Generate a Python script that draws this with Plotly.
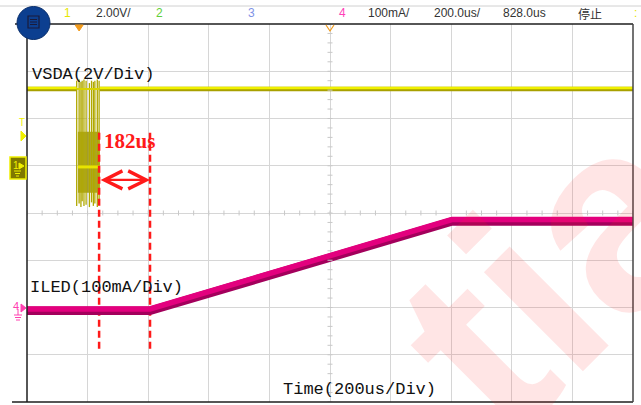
import plotly.graph_objects as go

# ---------------- data ----------------
x_range_us = [0, 2000]          # 10 div x 200us
vsda_range_v = [-10, 6]         # 8 div x 2V, ground 3 div below top
iled_range_ma = [-200, 600]     # 8 div x 100mA, ground 6 div below top

vsda_high_v = 3.25
vsda_pre_t = [0, 164]
vsda_post_t = [240, 2000]
burst_edges_us = [164, 172, 178, 182, 188, 195, 206, 213, 219, 224, 232, 238]
burst_top_v = [3.6, 3.65, 3.55, 3.6, 3.65, 3.6, 3.5, 3.6, 3.55, 3.6, 3.65, 3.6]
burst_bottom_v = [-1.7, -1.6, -1.75, -1.5, -1.7, -1.65, -1.75, -1.55, -1.7, -1.6, -1.75, -1.6]
burst_dense_t = [168, 240]
burst_dense_v = [-1.14, 1.44]
burst_band_v = -0.05

iled_t = [0, 406, 1402, 2000]
iled_ma = [-7, -7, 182, 182]

cursor_t = [238, 406]
cursor_span_v = [1.4, -7.8]
arrow_v = -0.6
delta_label = "182us"
trigger_t = 172

header_texts = ["1", "2.00V/", "2", "3", "4", "100mA/", "200.0us/", "828.0us", "停止", ":"]
header_colors = ["#e6e600", "#333333", "#5fcf3a", "#7f93e6", "#ff3fb8", "#333333", "#333333", "#333333", "#333333", "#e6e600"]
header_x_px = [67, 113, 159, 251, 342, 389, 457, 524, 590, 635]

# ---------------- layout helpers ----------------
W, H = 641, 405
L, R, T, B = 27, 633, 24, 402


def px(x):
    return (x - L) / (R - L)


def py(y):
    return (B - y) / (B - T)


def t_to_px(t):
    return L + (t - x_range_us[0]) / (x_range_us[1] - x_range_us[0]) * (R - L)


fig = go.Figure()

# VSDA burst: dense area
fig.add_trace(go.Scatter(
    x=[burst_dense_t[0], burst_dense_t[1], burst_dense_t[1], burst_dense_t[0], burst_dense_t[0]],
    y=[burst_dense_v[0], burst_dense_v[0], burst_dense_v[1], burst_dense_v[1], burst_dense_v[0]],
    fill="toself", fillcolor="rgba(150,142,0,0.8)", line=dict(width=0), mode="lines",
    hoverinfo="skip", showlegend=False))

# VSDA burst: edges
bx, by = [], []
for t, top, bot in zip(burst_edges_us, burst_top_v, burst_bottom_v):
    bx += [t, t, None]
    by += [top, bot, None]
fig.add_trace(go.Scatter(x=bx, y=by, mode="lines", line=dict(color="#b0a800", width=1.3),
                         hoverinfo="skip", showlegend=False))
fig.add_trace(go.Scatter(x=burst_dense_t, y=[burst_band_v] * 2, mode="lines",
                         line=dict(color="#e8e400", width=3), hoverinfo="skip", showlegend=False))

# VSDA high level
for seg in (vsda_pre_t, vsda_post_t):
    fig.add_trace(go.Scatter(x=seg, y=[vsda_high_v] * 2, mode="lines",
                             line=dict(color="#a8a000", width=4.5), hoverinfo="skip", showlegend=False))
    fig.add_trace(go.Scatter(x=seg, y=[vsda_high_v + 0.04] * 2, mode="lines",
                             line=dict(color="#f0f000", width=2.5), hoverinfo="skip", showlegend=False))
fig.add_trace(go.Scatter(x=[burst_edges_us[0], burst_edges_us[-1]], y=[vsda_high_v] * 2, mode="lines",
                         line=dict(color="#d8d400", width=2), hoverinfo="skip", showlegend=False))

# ILED
fig.add_trace(go.Scatter(x=iled_t, y=iled_ma, yaxis="y2", mode="lines",
                         line=dict(color="#a3005c", width=8.5), hoverinfo="skip", showlegend=False))
fig.add_trace(go.Scatter(x=iled_t, y=[v + 4 for v in iled_ma], yaxis="y2", mode="lines",
                         line=dict(color="#e3007e", width=5.5), hoverinfo="skip", showlegend=False))

# cursors
for ct in cursor_t:
    fig.add_trace(go.Scatter(x=[ct, ct], y=cursor_span_v, mode="lines",
                             line=dict(color="#ff1a1a", width=2.5, dash="7px,4px"),
                             hoverinfo="skip", showlegend=False))

shapes = []
# minor ticks on centre lines
x_c = (x_range_us[0] + x_range_us[1]) / 2
y_c = (vsda_range_v[0] + vsda_range_v[1]) / 2
us_per_px = (x_range_us[1] - x_range_us[0]) / (R - L)
v_per_px = (vsda_range_v[1] - vsda_range_v[0]) / (B - T)
t = x_range_us[0]
while t <= x_range_us[1] + 1e-6:
    shapes.append(dict(type="line", xref="x", yref="y", x0=t, x1=t,
                       y0=y_c - 2.5 * v_per_px, y1=y_c + 2.5 * v_per_px,
                       line=dict(color="#c8c8c8", width=1)))
    t += 50
v = vsda_range_v[0]
while v <= vsda_range_v[1] + 1e-6:
    shapes.append(dict(type="line", xref="x", yref="y", y0=v, y1=v,
                       x0=x_c - 2.5 * us_per_px, x1=x_c + 2.5 * us_per_px,
                       line=dict(color="#c8c8c8", width=1)))
    v += 0.4

# frame
frame_col = "#1e1e1e"
shapes += [
    dict(type="line", xref="paper", yref="paper", x0=px(0), x1=px(W), y0=py(6), y1=py(6),
         line=dict(color="#d0d0d0", width=1)),
    dict(type="line", xref="paper", yref="paper", x0=px(15), x1=px(R), y0=py(T), y1=py(T),
         line=dict(color=frame_col, width=1.5)),
    dict(type="line", xref="paper", yref="paper", x0=px(12), x1=px(R), y0=py(B), y1=py(B),
         line=dict(color=frame_col, width=1.5)),
    dict(type="line", xref="paper", yref="paper", x0=px(L), x1=px(L), y0=py(T), y1=py(B),
         line=dict(color=frame_col, width=1.5)),
    dict(type="line", xref="paper", yref="paper", x0=px(R), x1=px(R), y0=py(T), y1=py(B),
         line=dict(color="#444444", width=1.5)),
]
# menu button
shapes += [
    dict(type="circle", xref="paper", yref="paper", x0=px(17), x1=px(50), y0=py(39.5), y1=py(6.5),
         fillcolor="#0c3f90", line=dict(color="#0a2f6c", width=1)),
    dict(type="rect", xref="paper", yref="paper", x0=px(28), x1=px(39), y0=py(28), y1=py(16),
         line=dict(color="#1b1b3a", width=1.2)),
]
for yy in (19.5, 22, 24.5):
    shapes.append(dict(type="line", xref="paper", yref="paper", x0=px(30), x1=px(37), y0=py(yy), y1=py(yy),
                       line=dict(color="#1b1b3a", width=1)))
# trigger position markers at top
tp = t_to_px(trigger_t)
shapes.append(dict(type="path", xref="paper", yref="paper",
                   path=f"M {px(tp-4)} {py(25)} L {px(tp+4)} {py(25)} L {px(tp)} {py(31)} Z",
                   fillcolor="#f29b1d", line=dict(color="#f29b1d", width=1)))
cp = t_to_px(x_c)
shapes.append(dict(type="path", xref="paper", yref="paper",
                   path=f"M {px(cp-4)} {py(25)} L {px(cp)} {py(31)} L {px(cp+4)} {py(25)}",
                   line=dict(color="#f29b1d", width=1.2)))
# trigger level marker
shapes.append(dict(type="path", xref="paper", yref="paper",
                   path=f"M {px(21)} {py(131)} L {px(26)} {py(136)} L {px(21)} {py(141)} Z",
                   fillcolor="#f0f000", line=dict(color="#f0f000", width=1)))
# channel 1 ground marker
shapes.append(dict(type="rect", xref="paper", yref="paper", x0=px(10), x1=px(26), y0=py(179), y1=py(157),
                   fillcolor="#7f7800", line=dict(color="#f0f000", width=1.5)))
shapes.append(dict(type="path", xref="paper", yref="paper",
                   path=f"M {px(19)} {py(163)} L {px(24)} {py(166)} L {px(19)} {py(169)} Z",
                   fillcolor="#f0f000", line=dict(color="#f0f000", width=1)))
for i, yy in enumerate((171, 173.5, 176)):
    shapes.append(dict(type="line", xref="paper", yref="paper", x0=px(14 + i), x1=px(21 - i), y0=py(yy), y1=py(yy),
                       line=dict(color="#f0f000", width=1)))
# channel 4 ground marker
shapes.append(dict(type="path", xref="paper", yref="paper",
                   path=f"M {px(21)} {py(304)} L {px(26)} {py(308)} L {px(21)} {py(312)} Z",
                   fillcolor="#ff40b0", line=dict(color="#ff40b0", width=1)))
shapes.append(dict(type="line", xref="paper", yref="paper", x0=px(18), x1=px(18), y0=py(309), y1=py(315),
                   line=dict(color="#ff40b0", width=1)))
for i, yy in enumerate((315, 317.5, 320)):
    shapes.append(dict(type="line", xref="paper", yref="paper", x0=px(14 + i), x1=px(22 - i), y0=py(yy), y1=py(yy),
                       line=dict(color="#ff40b0", width=1)))

annotations = []
# watermark
annotations.append(dict(text="<b>tia</b>", xref="paper", yref="paper", x=px(552), y=py(272),
                        xanchor="center", yanchor="middle",
                        showarrow=False, textangle=-45,
                        font=dict(family="Liberation Sans", size=265, color="rgba(255,40,40,0.12)")))
# header
for txt, col, xx in zip(header_texts, header_colors, header_x_px):
    fam = "Noto Sans CJK SC" if txt == "停止" else "Liberation Sans"
    annotations.append(dict(text=txt, xref="paper", yref="paper", x=px(xx), y=py(13), showarrow=False,
                            xanchor="center", yanchor="middle", font=dict(family=fam, size=12, color=col)))
# left markers text
annotations.append(dict(text="T", xref="paper", yref="paper", x=px(21.5), y=py(123), showarrow=False,
                        xanchor="center", yanchor="middle",
                        font=dict(family="Liberation Sans", size=10, color="#f0f000")))
annotations.append(dict(text="1", xref="paper", yref="paper", x=px(15.5), y=py(165), showarrow=False,
                        xanchor="center", yanchor="middle",
                        font=dict(family="Liberation Sans", size=10, color="#f0f000")))
annotations.append(dict(text="4", xref="paper", yref="paper", x=px(16), y=py(306), showarrow=False,
                        xanchor="center", yanchor="middle",
                        font=dict(family="Liberation Sans", size=11, color="#ff40b0")))
# channel labels
lab_font = dict(family="Liberation Mono", size=17, color="#111111")
annotations.append(dict(text="VSDA(2V/Div)", xref="paper", yref="paper", x=px(30), y=py(74),
                        xanchor="left", yanchor="middle", showarrow=False, font=lab_font))
annotations.append(dict(text="ILED(100mA/Div)", xref="paper", yref="paper", x=px(28), y=py(287),
                        xanchor="left", yanchor="middle", showarrow=False, font=lab_font))
annotations.append(dict(text="Time(200us/Div)", xref="paper", yref="paper", x=px(281), y=py(389),
                        xanchor="left", yanchor="middle", showarrow=False, font=lab_font))
# delta arrow and label
annotations.append(dict(x=cursor_t[1], y=arrow_v, ax=cursor_t[0], ay=arrow_v, xref="x", yref="y",
                        axref="x", ayref="y", text="", showarrow=True, arrowside="end+start",
                        arrowhead=5, arrowsize=1.6, arrowwidth=2.2, arrowcolor="#ff1a1a"))
annotations.append(dict(text="<b>" + delta_label + "</b>", x=cursor_t[0] + 3 * us_per_px, y=1.05,
                        xref="x", yref="y", xanchor="left", yanchor="middle", showarrow=False,
                        font=dict(family="Liberation Serif", size=21, color="#ff1a1a")))

fig.update_layout(
    width=W, height=H,
    margin=dict(l=L, r=W - R, t=T, b=H - B, pad=0),
    paper_bgcolor="white", plot_bgcolor="white",
    showlegend=False,
    xaxis=dict(range=x_range_us, dtick=200, showgrid=True, gridcolor="#d6d6d6", gridwidth=1,
               zeroline=False, showticklabels=False, ticks="", showline=False, fixedrange=True),
    yaxis=dict(range=vsda_range_v, dtick=2, showgrid=True, gridcolor="#d6d6d6", gridwidth=1,
               zeroline=False, showticklabels=False, ticks="", showline=False, fixedrange=True),
    yaxis2=dict(range=iled_range_ma, overlaying="y", showgrid=False, zeroline=False,
                showticklabels=False, ticks="", showline=False, fixedrange=True),
    shapes=shapes,
    annotations=annotations,
)

fig.write_html("out.html", config=dict(displayModeBar=False),
               post_script="document.body.style.margin='0';document.body.style.padding='0';"
                           "document.body.style.overflow='hidden';")
